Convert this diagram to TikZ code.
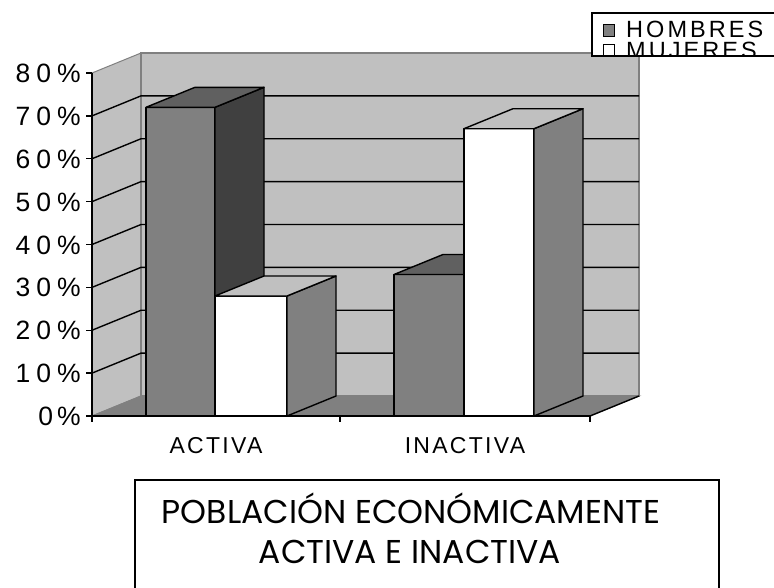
\documentclass[tikz,border=0pt]{standalone}
\usepackage{fontspec}
\setmainfont{Liberation Sans}
\newfontfamily\titlefont{Poppins}
\usepackage{tikz}

\definecolor{wallgray}{RGB}{192,192,192}
\definecolor{midgray}{RGB}{128,128,128}
\definecolor{topgray}{RGB}{96,96,96}
\definecolor{darkgray}{RGB}{64,64,64}

\tikzset{
  axislabel/.style={font=\fontsize{26.5}{26.5}\selectfont\addfontfeatures{LetterSpace=23}, anchor=base east, inner sep=0pt},
  catlabel/.style={font=\fontsize{23}{23}\selectfont\addfontfeatures{LetterSpace=10}, anchor=base, inner sep=0pt},
  legendlabel/.style={font=\fontsize{23.5}{23.5}\selectfont\addfontfeatures{LetterSpace=13}, anchor=base west, inner sep=0pt},
  titlelabel/.style={font=\titlefont\fontsize{33}{33}\selectfont, anchor=base, inner sep=0pt},
  bar/.style={draw=black, line width=1.4pt, line join=round}
}

\begin{document}
\begin{tikzpicture}[x=1pt,y=-1pt]
      \useasboundingbox (0,0) rectangle (774,587);

      % walls and floor
      \filldraw[fill=wallgray, draw=midgray, line width=1pt] (92,416) -- (92,73) -- (141,53) -- (141,396) -- cycle;
      \filldraw[fill=wallgray, draw=midgray, line width=1.4pt] (141,53) rectangle (639,396);
      \filldraw[fill=midgray, draw=midgray, line width=1pt] (92,416) -- (141,396) -- (639,396) -- (590,416) -- cycle;
      \draw[line width=1.4pt] (590,416) -- (639,396);

      % gridlines
      \foreach \p in {1,...,7}
        \draw[line width=1.4pt] (92,416-42.875*\p) -- (141,396-42.875*\p) -- (639,396-42.875*\p);

      % axes and ticks
      \draw[line width=1.4pt] (92,73) -- (92,416) -- (590,416);
      \foreach \p in {0,...,8}
        \draw[line width=1.4pt] (86,416-42.875*\p) -- (92,416-42.875*\p);
      \draw[line width=1.4pt] (92,416) -- (92,422);
      \draw[line width=1.4pt] (340,416) -- (340,422);
      \draw[line width=1.4pt] (590,416) -- (590,422);

      \node[axislabel] (l0) at (81,425.5) {0\kern4pt\%};
      \node[axislabel] (l10) at (81,382.6) {10\%};
      \node[axislabel] (l20) at (81,339.8) {20\%};
      \node[axislabel] (l30) at (81,296.9) {30\%};
      \node[axislabel] (l40) at (81,254.0) {40\%};
      \node[axislabel] (l50) at (81,211.1) {50\%};
      \node[axislabel] (l60) at (81,168.3) {60\%};
      \node[axislabel] (l70) at (81,125.4) {70\%};
      \node[axislabel] (l80) at (81,82.5) {80\%};

      % ACTIVA
      \filldraw[bar, fill=midgray] (146,416) rectangle (215,107.3);
      \filldraw[bar, fill=darkgray] (215,416) -- (264,396) -- (264,87.3) -- (215,107.3) -- cycle;
      \filldraw[bar, fill=topgray] (146,107.3) -- (195,87.3) -- (264,87.3) -- (215,107.3) -- cycle;
      \filldraw[bar, fill=white] (215,416) rectangle (287,296);
      \filldraw[bar, fill=midgray] (287,416) -- (336,396) -- (336,276) -- (287,296) -- cycle;
      \filldraw[bar, fill=wallgray] (215,296) -- (264,276) -- (336,276) -- (287,296) -- cycle;

      % INACTIVA
      \filldraw[bar, fill=midgray] (394,416) rectangle (464,274.5);
      \filldraw[bar, fill=darkgray] (464,416) -- (513,396) -- (513,254.5) -- (464,274.5) -- cycle;
      \filldraw[bar, fill=topgray] (394,274.5) -- (443,254.5) -- (513,254.5) -- (464,274.5) -- cycle;
      \filldraw[bar, fill=white] (464,416) rectangle (534,128.7);
      \filldraw[bar, fill=midgray] (534,416) -- (583,396) -- (583,108.7) -- (534,128.7) -- cycle;
      \filldraw[bar, fill=wallgray] (464,128.7) -- (513,108.7) -- (583,108.7) -- (534,128.7) -- cycle;

      \node[catlabel] (activa) at (216,453) {ACTIVA};
      \node[catlabel] (inactiva) at (465,453) {INACTIVA};

      % legend
      \fill[white] (592,13) rectangle (780,56);
      \begin{scope}
        \clip (592,13) rectangle (780,56);
        \filldraw[fill=midgray, line width=1pt] (603,24) rectangle (614,36);
        \filldraw[fill=white, line width=1pt] (603,44) rectangle (614,56);
        \node[legendlabel] (hombres) at (626,37) {HOMBRES};
        \node[legendlabel] (mujeres) at (626,58) {MUJERES};
      \end{scope}
      \draw[line width=1.4pt] (592,13) rectangle (780,56);

      % title
      \draw[line width=1.4pt] (135,480) rectangle (719,600);
      \node[titlelabel] (title1) at (411,523) {POBLACIÓN ECONÓMICAMENTE};
      \node[titlelabel] (title2) at (410,563) {ACTIVA E INACTIVA};
    \end{tikzpicture}
\end{document}
